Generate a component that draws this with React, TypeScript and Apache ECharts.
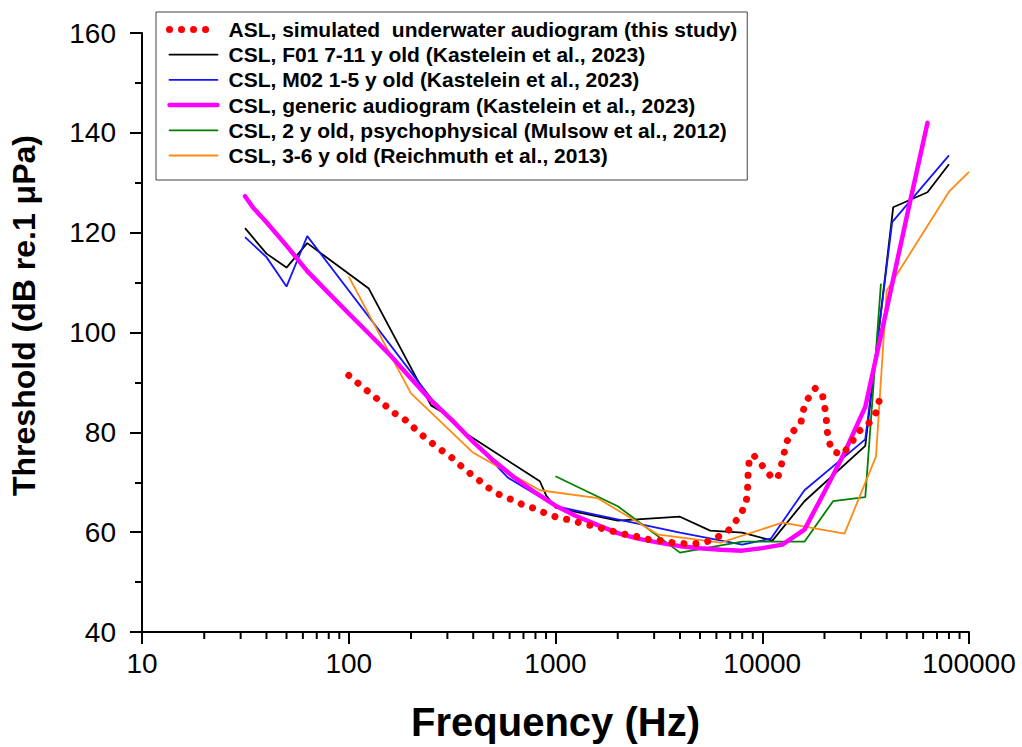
import React, { useEffect, useRef } from "react";
import * as echarts from "echarts";

// ---------- series names (legend order) ----------
const nameASL = "ASL, simulated  underwater audiogram (this study)";
const nameF01 = "CSL, F01 7-11 y old (Kastelein et al., 2023)";
const nameM02 = "CSL, M02 1-5 y old (Kastelein et al., 2023)";
const nameGeneric = "CSL, generic audiogram (Kastelein et al., 2023)";
const nameMulsow = "CSL, 2 y old, psychophysical (Mulsow et al., 2012)";
const nameReich = "CSL, 3-6 y old (Reichmuth et al., 2013)";

// ---------- data (frequency in Hz, threshold in dB re 1 µPa) ----------
const aslFreq = [100, 114, 129, 146, 167, 191, 215, 246, 281, 318, 363, 415, 469, 531, 607, 686, 783, 895, 1012, 1156, 1306, 1493, 1687, 1928, 2203, 2490, 2844, 3251, 3673, 4198, 4742, 5420, 6124, 6934, 7656, 8279, 8472, 8511, 8551, 8650, 9057, 10116, 11298, 11940, 12359, 12764, 13213, 14125, 15417, 15776, 16672, 18030, 19498, 19953, 20370, 20512, 20845, 21777, 24322, 26915, 28774, 32885, 35563, 36728];
const aslDb = [91.4, 89.4, 87.6, 85.8, 83.8, 82.3, 80.2, 78.2, 76.4, 74.8, 72.6, 70.8, 69.0, 67.6, 66.6, 65.6, 64.8, 63.8, 63.0, 62.5, 61.9, 61.3, 60.7, 60.1, 59.5, 59.1, 58.5, 58.3, 57.9, 57.7, 57.7, 58.1, 59.1, 60.5, 62.9, 65.3, 67.5, 69.8, 72.2, 74.4, 75.5, 73.1, 70.6, 71.2, 73.4, 75.9, 78.3, 80.2, 82.2, 84.4, 86.8, 88.8, 87.8, 85.6, 83.2, 81.1, 78.7, 76.3, 75.5, 77.7, 79.9, 81.9, 84.0, 86.2];

const f01Freq = [31.5, 40, 50, 63, 125, 250, 280, 355, 840, 900, 1000, 2000, 4000, 5600, 8000, 11200, 16000, 31500, 43000, 63000, 80000];
const f01Db = [120.9, 115.8, 113.0, 117.9, 108.8, 85.4, 84.2, 80.2, 70.2, 67.4, 64.9, 62.3, 63.1, 60.3, 59.9, 58.3, 66.2, 77.3, 125.1, 128.1, 133.7];

const m02Freq = [31.5, 40, 50, 63, 250, 590, 1000, 4000, 8000, 11000, 16000, 31500, 42500, 80000];
const m02Db = [119.1, 115.1, 109.2, 119.3, 86.8, 70.9, 65.2, 59.9, 57.5, 58.7, 68.4, 78.6, 122.1, 135.5];

const genericFreq = [31.5, 34.5, 40, 50, 63, 80, 100, 125, 160, 200, 250, 315, 400, 500, 630, 800, 1000, 1250, 1600, 2000, 2500, 3150, 4000, 5000, 6300, 8000, 10000, 12500, 16000, 20000, 25000, 31500, 40000, 50000, 63000];
const genericDb = [127.3, 125.0, 122.1, 117.4, 112.3, 107.9, 103.8, 99.8, 95.3, 90.8, 86.4, 82.5, 78.1, 74.4, 71.0, 67.9, 65.3, 63.3, 61.4, 59.8, 58.7, 57.9, 57.2, 56.8, 56.5, 56.3, 56.8, 57.5, 60.5, 68.1, 75.9, 85.1, 104.7, 123.2, 142.0];

const mulsowFreq = [1000, 2000, 4000, 8000, 16000, 22000, 31500, 37500];
const mulsowDb = [71.2, 65.2, 55.9, 58.1, 58.1, 66.2, 67.0, 109.8];

const reichFreq = [100, 200, 400, 840, 1600, 3150, 6300, 12500, 25000, 35500, 40000, 80000, 100000];
const reichDb = [111.2, 87.8, 75.9, 68.4, 66.8, 59.5, 57.9, 61.9, 59.7, 75.2, 108.4, 128.2, 132.2];

// ---------- axes ----------
const xMin = 10;
const xMax = 100000;
const yMin = 40;
const yMax = 160;
const yInterval = 20;
const xMinorTicks = [20, 30, 40, 50, 60, 70, 80, 90, 200, 300, 400, 500, 600, 700, 800, 900, 2000, 3000, 4000, 5000, 6000, 7000, 8000, 9000, 20000, 30000, 40000, 50000, 60000, 70000, 80000, 90000];

const FONT = "'Liberation Sans', Arial, Helvetica, sans-serif";

const pairs = (xs: number[], ys: number[]) => xs.map((x, i) => [x, ys[i]]);

export default function App() {
  const ref = useRef<HTMLDivElement>(null);

  useEffect(() => {
    if (!ref.current) return;
    const chart = echarts.init(ref.current, null, { renderer: "svg" });

    const thin = (name: string, xs: number[], ys: number[], color: string, z: number) => ({
      name,
      type: "line",
      data: pairs(xs, ys),
      symbol: "none",
      showSymbol: false,
      z,
      lineStyle: { color, width: 1.8 },
      itemStyle: { color },
    });

    const option: any = {
      animation: false,
      backgroundColor: "#ffffff",
      grid: { left: 142, right: 53, top: 33, bottom: 112.5, containLabel: false },
      legend: {
        data: [nameASL, nameF01, nameM02, nameGeneric, nameMulsow, nameReich],
        orient: "vertical",
        left: 156,
        top: 12,
        padding: [7, 10, 14, 10],
        itemWidth: 48,
        itemHeight: 14,
        itemGap: 4.2,
        borderColor: "#444",
        borderWidth: 1,
        selectedMode: false,
        itemStyle: { opacity: 0 },
        lineStyle: { width: "inherit", type: "inherit", cap: "round" },
        textStyle: {
          fontSize: 21,
          fontWeight: "bold",
          color: "#000",
          fontFamily: FONT,
          lineHeight: 21,
          padding: [0, 0, 0, 6],
        },
      },
      xAxis: {
        type: "log",
        logBase: 10,
        min: xMin,
        max: xMax,
        axisLine: { onZero: false, lineStyle: { color: "#000", width: 2 } },
        axisTick: { show: true, length: 12, lineStyle: { color: "#000", width: 2 } },
        axisLabel: {
          color: "#000",
          fontSize: 28,
          fontFamily: FONT,
          margin: 17,
          formatter: (v: number) => String(Math.round(v)),
        },
        splitLine: { show: false },
        name: "Frequency (Hz)",
        nameLocation: "middle",
        nameGap: 70,
        nameTextStyle: { fontSize: 40, fontWeight: "bold", color: "#000", fontFamily: FONT },
      },
      yAxis: {
        type: "value",
        min: yMin,
        max: yMax,
        interval: yInterval,
        axisLine: { show: true, lineStyle: { color: "#000", width: 2 } },
        axisTick: { show: true, length: 12, lineStyle: { color: "#000", width: 2 } },
        minorTick: { show: true, splitNumber: 2, length: 7, lineStyle: { color: "#000", width: 2 } },
        axisLabel: { color: "#000", fontSize: 28, fontFamily: FONT, margin: 26 },
        splitLine: { show: false },
        minorSplitLine: { show: false },
        name: "Threshold (dB re.1 μPa)",
        nameLocation: "middle",
        nameGap: 102,
        nameTextStyle: {
          fontSize: 32,
          fontWeight: "bold",
          color: "#000",
          fontFamily: FONT,
          padding: [0, 0, 0, 34],
        },
      },
      series: [
        {
          name: "minorTicks",
          type: "custom",
          coordinateSystem: "cartesian2d",
          data: xMinorTicks.map((f) => [f, yMin]),
          clip: false,
          silent: true,
          z: 1,
          renderItem: (_params: any, api: any) => {
            const p = api.coord([api.value(0), api.value(1)]);
            return {
              type: "line",
              shape: { x1: p[0], y1: p[1], x2: p[0], y2: p[1] + 7 },
              style: { stroke: "#000", lineWidth: 2 },
            };
          },
        },
        thin(nameF01, f01Freq, f01Db, "#000000", 3),
        thin(nameM02, m02Freq, m02Db, "#1414ff", 3),
        thin(nameMulsow, mulsowFreq, mulsowDb, "#008000", 3),
        thin(nameReich, reichFreq, reichDb, "#ff8a14", 3),
        {
          name: nameGeneric,
          type: "line",
          data: pairs(genericFreq, genericDb),
          symbol: "none",
          showSymbol: false,
          z: 4,
          lineStyle: { color: "#ff00ff", width: 4.5, cap: "round", join: "round" },
          itemStyle: { color: "#ff00ff" },
        },
        {
          name: nameASL,
          type: "line",
          data: pairs(aslFreq, aslDb),
          symbol: "none",
          showSymbol: false,
          z: 5,
          lineStyle: { color: "#ff0000", width: 7, type: [0.01, 12], cap: "round", join: "round" },
          itemStyle: { color: "#ff0000" },
        },
      ],
    };

    chart.setOption(option);
    return () => chart.dispose();
  }, []);

  return (
    <div
      ref={ref}
      style={{ position: "fixed", left: 0, top: 0, width: 1022, height: 747, background: "#fff" }}
    />
  );
}
